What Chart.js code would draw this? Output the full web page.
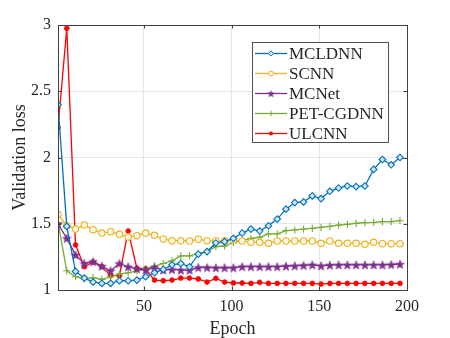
<!DOCTYPE html>
<html><head><meta charset="utf-8">
<script src="https://cdn.jsdelivr.net/npm/chart.js@4/dist/chart.umd.min.js"></script>
<style>html,body{margin:0;padding:0;background:#fff}#wrap{width:450px;height:338px;position:relative}</style>
</head><body><div id="wrap"><canvas id="c" width="450" height="338"></canvas></div>
<script>
const epochs = [1,6,11,16,21,26,31,36,41,46,51,56,61,66,71,76,81,86,91,96,101,106,111,116,121,126,131,136,141,146,151,156,161,166,171,176,181,186,191,196];
const seriesNames = ['MCLDNN','SCNN','MCNet','PET-CGDNN','ULCNN'];
const mcldnn = [2.40,1.48,1.14,1.09,1.06,1.05,1.05,1.07,1.07,1.075,1.10,1.13,1.155,1.19,1.20,1.175,1.27,1.29,1.355,1.365,1.39,1.43,1.46,1.445,1.485,1.535,1.61,1.66,1.665,1.71,1.69,1.745,1.77,1.785,1.78,1.785,1.91,1.985,1.945,2.0];
const scnn = [1.57,1.485,1.46,1.49,1.455,1.43,1.44,1.42,1.40,1.41,1.43,1.413,1.385,1.372,1.372,1.37,1.383,1.372,1.372,1.372,1.377,1.37,1.36,1.36,1.352,1.37,1.37,1.37,1.37,1.37,1.352,1.37,1.352,1.352,1.352,1.345,1.36,1.35,1.35,1.35];
const mcnet = [1.50,1.39,1.265,1.20,1.215,1.18,1.145,1.20,1.175,1.16,1.15,1.17,1.15,1.155,1.15,1.15,1.17,1.17,1.168,1.168,1.168,1.176,1.176,1.176,1.176,1.176,1.18,1.183,1.186,1.19,1.183,1.188,1.19,1.19,1.19,1.19,1.19,1.19,1.192,1.195];
const petcgdnn = [1.51,1.145,1.10,1.083,1.093,1.08,1.10,1.12,1.13,1.145,1.16,1.18,1.20,1.22,1.257,1.257,1.277,1.29,1.327,1.332,1.357,1.375,1.39,1.398,1.423,1.423,1.448,1.453,1.46,1.465,1.473,1.48,1.49,1.495,1.503,1.508,1.51,1.516,1.516,1.523];
const ulcnn = [2.225,2.975,1.34,1.176,1.21,1.176,1.108,1.108,1.445,1.163,1.16,1.075,1.07,1.075,1.09,1.09,1.083,1.06,1.088,1.06,1.053,1.053,1.05,1.058,1.05,1.05,1.05,1.05,1.05,1.05,1.045,1.05,1.05,1.05,1.05,1.05,1.05,1.05,1.05,1.05];
const xTicks = [50,100,150,200];
const yTicks = [1,1.5,2,2.5,3];

const FONT = "'Liberation Serif','Times New Roman',serif";
const TXT = '#262626';

function makeStar(color, R){
  const s = Math.ceil(R*2+2);
  const cv = document.createElement('canvas'); cv.width = s; cv.height = s;
  const g = cv.getContext('2d');
  const c = s/2, r = R*0.42;
  g.beginPath();
  for (let i=0;i<10;i++){
    const a = -Math.PI/2 + i*Math.PI/5;
    const rr = i%2===0 ? R : r;
    const x = c + rr*Math.cos(a), y = c + rr*Math.sin(a)+0.5;
    if(i===0) g.moveTo(x,y); else g.lineTo(x,y);
  }
  g.closePath(); g.fillStyle = color; g.fill();
  g.strokeStyle=color; g.lineWidth=0.6; g.stroke();
  return cv;
}
const starImg = makeStar('#7E2F8E', 4.6);
const starImgSmall = makeStar('#7E2F8E', 3.4);

const colors = ['#0072BD','#EDB120','#7E2F8E','#77AC30','#FF0000'];
const allData = [mcldnn, scnn, mcnet, petcgdnn, ulcnn];
const styles = [
  {pointStyle:'rectRot', pointRadius:3.3, pointBackgroundColor:'rgba(210,230,245,1)', pointBorderWidth:1.1},
  {pointStyle:'circle', pointRadius:3.2, pointBackgroundColor:'rgba(255,250,235,1)', pointBorderWidth:1.1},
  {pointStyle:starImg, pointRadius:4.6, pointBackgroundColor:'#7E2F8E', pointBorderWidth:0},
  {pointStyle:'cross', pointRadius:3.6, pointBackgroundColor:'#77AC30', pointBorderWidth:1.1},
  {pointStyle:'circle', pointRadius:2.4, pointBackgroundColor:'#FF0000', pointBorderWidth:0.8}
];

const datasets = seriesNames.map((n,i)=>Object.assign({
  label:n,
  data: epochs.map((e,k)=>({x:e,y:allData[i][k]})),
  borderColor: colors[i],
  pointBorderColor: colors[i],
  borderWidth:1.3,
  tension:0,
  fill:false
}, styles[i]));

const boxPlugin = {
  id:'boxPlugin',
  afterDraw(chart){
    const {ctx, chartArea:a, scales} = chart;
    ctx.save();
    ctx.strokeStyle = '#404040'; ctx.lineWidth = 1;
    ctx.strokeRect(Math.round(a.left)+0.5, Math.round(a.top)+0.5, Math.round(a.right-a.left), Math.round(a.bottom-a.top));
    const tl = 3.5;
    ctx.beginPath();
    xTicks.forEach(v=>{
      const x = Math.round(scales.x.getPixelForValue(v))+0.5;
      ctx.moveTo(x,a.bottom); ctx.lineTo(x,a.bottom-tl);
      ctx.moveTo(x,a.top); ctx.lineTo(x,a.top+tl);
    });
    yTicks.forEach(v=>{
      const y = Math.round(scales.y.getPixelForValue(v))+0.5;
      ctx.moveTo(a.left,y); ctx.lineTo(a.left+tl,y);
      ctx.moveTo(a.right,y); ctx.lineTo(a.right-tl,y);
    });
    ctx.stroke();

    // legend
    const L = 252.5, T = 42.5, W = 136, H = 100;
    ctx.fillStyle = '#fff'; ctx.fillRect(L,T,W,H);
    ctx.strokeStyle = '#262626'; ctx.lineWidth = 0.8; ctx.strokeRect(L,T,W,H);
    ctx.font = '17px ' + FONT; ctx.textBaseline = 'middle'; ctx.textAlign='left';
    seriesNames.forEach((n,i)=>{
      const y = 53.5 + i*20;
      ctx.strokeStyle = colors[i]; ctx.lineWidth = 1.3;
      ctx.beginPath(); ctx.moveTo(255,y); ctx.lineTo(287,y); ctx.stroke();
      const cx = 271;
      ctx.lineWidth = 1;
      if(i===0){ ctx.beginPath(); ctx.moveTo(cx,y-2.6); ctx.lineTo(cx+2.6,y); ctx.lineTo(cx,y+2.6); ctx.lineTo(cx-2.6,y); ctx.closePath(); ctx.fillStyle='rgba(210,230,245,1)'; ctx.fill(); ctx.stroke(); }
      else if(i===1){ ctx.beginPath(); ctx.arc(cx,y,2.4,0,Math.PI*2); ctx.fillStyle='rgba(255,250,235,1)'; ctx.fill(); ctx.stroke(); }
      else if(i===2){ ctx.drawImage(starImgSmall, cx-starImgSmall.width/2, y-starImgSmall.height/2); }
      else if(i===3){ ctx.beginPath(); ctx.moveTo(cx-2.8,y); ctx.lineTo(cx+2.8,y); ctx.moveTo(cx,y-2.8); ctx.lineTo(cx,y+2.8); ctx.stroke(); }
      else { ctx.beginPath(); ctx.arc(cx,y,2.1,0,Math.PI*2); ctx.fillStyle=colors[i]; ctx.fill(); }
      ctx.fillStyle = TXT;
      ctx.fillText(n, 289, y+1);
    });
    ctx.restore();
  }
};

new Chart(document.getElementById('c'), {
  type:'line',
  data:{datasets},
  options:{
    responsive:false, animation:false, devicePixelRatio:1,
    layout:{padding:{left:0,right:43,top:25,bottom:0}},
    plugins:{legend:{display:false}, tooltip:{enabled:false}},
    scales:{
      x:{type:'linear', min:1, max:200,
        afterBuildTicks(s){ s.ticks = xTicks.map(v=>({value:v})); },
        afterFit(s){ s.height = 48; },
        grid:{color:'#e6e6e6', drawTicks:false, lineWidth:1},
        border:{display:false},
        ticks:{color:TXT, font:{family:FONT,size:16}, padding:7, maxRotation:0, callback:v=>String(v)},
        title:{display:true, text:'Epoch', color:TXT, font:{family:FONT,size:18}, padding:{top:0,bottom:-2}}
      },
      y:{type:'linear', min:1, max:3,
        afterBuildTicks(s){ s.ticks = yTicks.map(v=>({value:v})); },
        afterFit(s){ s.width = 58; },
        grid:{color:'#e6e6e6', drawTicks:false, lineWidth:1},
        border:{display:false},
        ticks:{color:TXT, font:{family:FONT,size:16}, padding:7, callback:v=>String(v)},
        title:{display:true, text:'Validation loss', color:TXT, font:{family:FONT,size:18}, padding:{top:9,bottom:0}}
      }
    }
  },
  plugins:[boxPlugin]
});
</script>
</body></html>
